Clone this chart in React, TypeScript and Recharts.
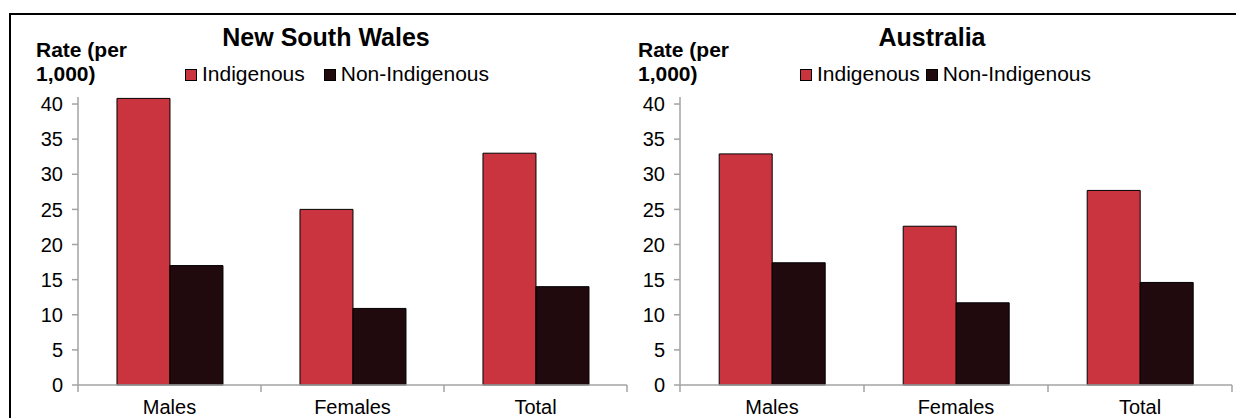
import React from "react";
import { BarChart, Bar, XAxis, YAxis } from "recharts";

const categories = ["Males", "Females", "Total"];
const nswIndigenous = [40.8, 25, 33];
const nswNonIndigenous = [17, 10.9, 14];
const ausIndigenous = [32.9, 22.6, 27.7];
const ausNonIndigenous = [17.4, 11.7, 14.6];
const yTicks = [0, 5, 10, 15, 20, 25, 30, 35, 40];
const seriesNames = ["Indigenous", "Non-Indigenous"];

const RED = "#C9343F";
const DARK = "#200A0D";
const AXIS = "#A3A3A3";
const FONT = "'Liberation Sans', Arial, sans-serif";

const CHART_H = 418;
const MARGIN_TOP = 97;
const X_AXIS_H = 33;

function rows(ind: number[], non: number[]) {
  return categories.map((c, i) => ({ name: c, ind: ind[i], non: non[i] }));
}

function makeXTick(band: number) {
  return (props: any) => {
    const { x, y, payload, index } = props;
    const left = x - band / 2;
    return (
      <g>
        <line x1={left} x2={left} y1={y} y2={y + 7} stroke={AXIS} strokeWidth={1.5} />
        {index === categories.length - 1 && (
          <line x1={x + band / 2} x2={x + band / 2} y1={y} y2={y + 7} stroke={AXIS} strokeWidth={1.5} />
        )}
        <text x={x} y={y + 29} textAnchor="middle" fontSize={20} fontFamily={FONT} fill="#000">
          {payload.value}
        </text>
      </g>
    );
  };
}

function YTick(props: any) {
  const { x, y, payload } = props;
  return (
    <g>
      <line x1={x - 6} x2={x} y1={y} y2={y} stroke={AXIS} strokeWidth={1.5} />
      <text x={x - 15} y={y} dy="0.36em" textAnchor="end" fontSize={20} fontFamily={FONT} fill="#000">
        {payload.value}
      </text>
    </g>
  );
}

interface PanelProps {
  title: string;
  data: { name: string; ind: number; non: number }[];
  left: number;
  width: number;
  yAxisWidth: number;
  marginRight: number;
  titleCenter: number;
  legendLeft: number;
  legendGap: number;
  labelLeft: number;
}

function Panel(p: PanelProps) {
  const plotW = p.width - p.yAxisWidth - p.marginRight;
  const band = plotW / categories.length;
  return (
    <>
      <div style={{ position: "absolute", left: p.left, top: 0, width: p.width, height: CHART_H }}>
        <BarChart
          width={p.width}
          height={CHART_H}
          data={p.data}
          margin={{ top: MARGIN_TOP, right: p.marginRight, left: 0, bottom: 0 }}
          barCategoryGap="21.3%"
          barGap={0}
        >
          <XAxis
            dataKey="name"
            height={X_AXIS_H}
            tickSize={0}
            tickMargin={0}
            tickLine={false}
            axisLine={{ stroke: AXIS, strokeWidth: 1.5 }}
            tick={makeXTick(band)}
            interval={0}
          />
          <YAxis
            width={p.yAxisWidth}
            type="number"
            domain={[0, 41]}
            ticks={yTicks}
            interval={0}
            tickSize={0}
            tickMargin={0}
            tickLine={false}
            axisLine={{ stroke: AXIS, strokeWidth: 1.5 }}
            tick={YTick}
          />
          <Bar dataKey="ind" name={seriesNames[0]} fill={RED} stroke="#000" strokeWidth={1} isAnimationActive={false} />
          <Bar dataKey="non" name={seriesNames[1]} fill={DARK} stroke="#000" strokeWidth={1} isAnimationActive={false} />
        </BarChart>
      </div>
      <div
        style={{
          position: "absolute",
          left: p.labelLeft,
          top: 38,
          fontFamily: FONT,
          fontWeight: "bold",
          fontSize: 21,
          lineHeight: "24px",
          whiteSpace: "nowrap",
        }}
      >
        Rate (per
        <br />
        1,000)
      </div>
      <div
        style={{
          position: "absolute",
          left: p.titleCenter - 200,
          width: 400,
          top: 23,
          textAlign: "center",
          fontFamily: FONT,
          fontWeight: "bold",
          fontSize: 25,
          lineHeight: "29px",
        }}
      >
        {p.title}
      </div>
      <div
        style={{
          position: "absolute",
          left: p.legendLeft,
          top: 62,
          display: "flex",
          alignItems: "center",
          gap: p.legendGap,
          fontFamily: FONT,
          fontSize: 21,
          lineHeight: "24px",
          whiteSpace: "nowrap",
        }}
      >
        {seriesNames.map((s, i) => (
          <div key={s} style={{ display: "flex", alignItems: "center" }}>
            <span
              style={{
                display: "inline-block",
                width: 10,
                height: 10,
                background: i === 0 ? RED : DARK,
                border: "1px solid #000",
                marginRight: 5,
                marginTop: 2,
              }}
            />
            {s}
          </div>
        ))}
      </div>
    </>
  );
}

export default function App() {
  return (
    <div
      style={{
        position: "fixed",
        left: 0,
        top: 0,
        width: 1236,
        height: 418,
        overflow: "hidden",
        background: "#fff",
      }}
    >
      <div
        style={{
          position: "absolute",
          left: 9,
          top: 13,
          width: 1400,
          height: 600,
          border: "2px solid #000",
        }}
      />
      <Panel
        title="New South Wales"
        data={rows(nswIndigenous, nswNonIndigenous)}
        left={0}
        width={640}
        yAxisWidth={78}
        marginRight={13}
        titleCenter={326}
        legendLeft={185}
        legendGap={19}
        labelLeft={36}
      />
      <Panel
        title="Australia"
        data={rows(ausIndigenous, ausNonIndigenous)}
        left={620}
        width={616}
        yAxisWidth={60}
        marginRight={4}
        titleCenter={932}
        legendLeft={800}
        legendGap={6}
        labelLeft={638}
      />
    </div>
  );
}
